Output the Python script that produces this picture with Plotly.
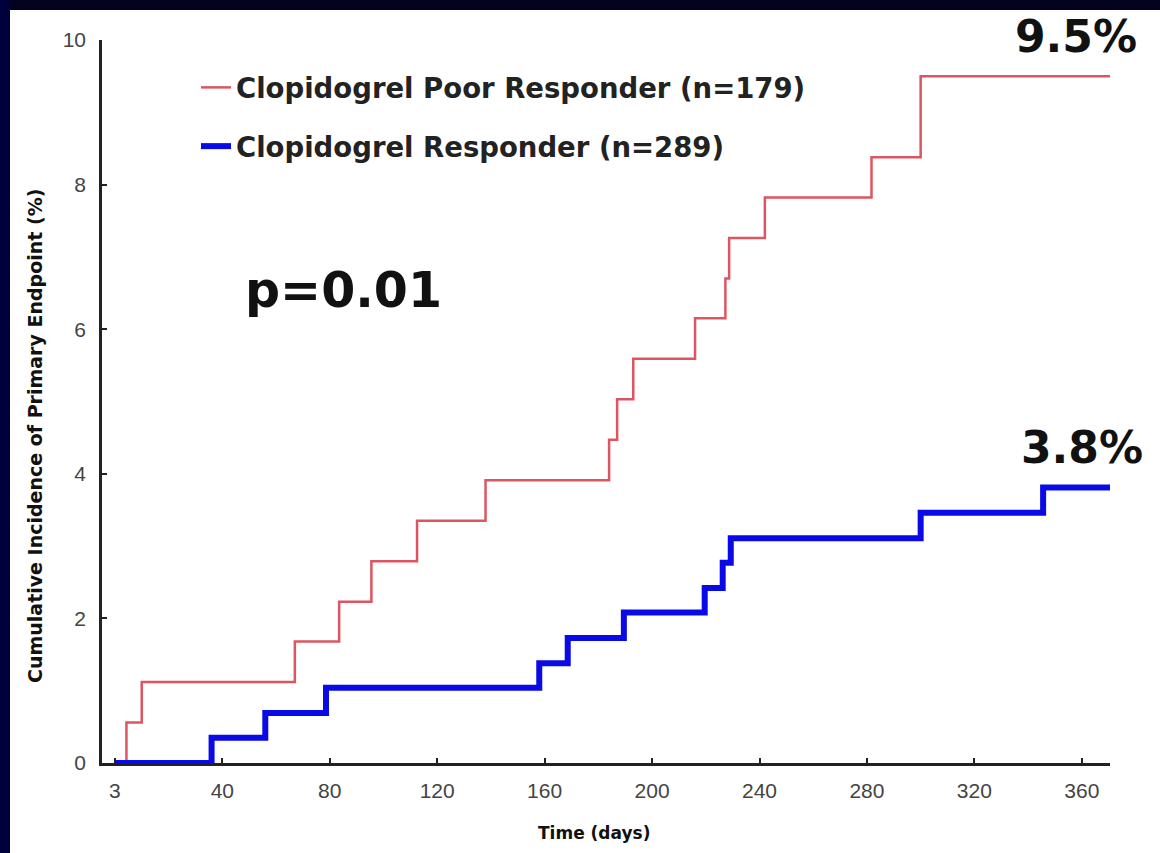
import plotly.graph_objects as go

# ---- data ----
poor_days = [4.3, 4.3, 10, 67, 83.5, 95.5, 112.5, 138, 184, 187, 193, 216, 227.3, 228.7, 242, 281.7, 300, 371]
poor_vals = [0, 0.56, 1.12, 1.68, 2.23, 2.79, 3.35, 3.91, 4.47, 5.03, 5.59, 6.15, 6.70, 7.26, 7.82, 8.38, 9.50, 9.50]

resp_days = [0, 36, 56, 78.6, 158, 168.6, 189.5, 219.6, 226.3, 229.3, 300, 345.6, 371]
resp_vals = [0, 0.35, 0.69, 1.04, 1.38, 1.73, 2.08, 2.42, 2.77, 3.11, 3.46, 3.81, 3.81]

x_tick_vals = [0, 40, 80, 120, 160, 200, 240, 280, 320, 360]
x_tick_text = ["3", "40", "80", "120", "160", "200", "240", "280", "320", "360"]
y_tick_vals = [0, 2, 4, 6, 8, 10]

poor_name = "Clopidogrel Poor Responder (n=179)"
resp_name = "Clopidogrel Responder (n=289)"

# ---- layout geometry (pixels) ----
WIDTH, HEIGHT = 1160, 853
L, R, T, B = 102, 1110, 40, 763
PW, PH = R - L, B - T


def px(x):
    return (x - L) / PW


def py(y):
    return (B - y) / PH


fig = go.Figure()
fig.add_trace(go.Scatter(
    x=poor_days, y=poor_vals, mode="lines", line_shape="hv",
    line=dict(color="#dc5560", width=2.5), name=poor_name, legendgroup="a",
    cliponaxis=False))
fig.add_trace(go.Scatter(
    x=resp_days, y=resp_vals, mode="lines", line_shape="hv",
    line=dict(color="#0a0ae6", width=6), name=resp_name, legendgroup="b",
    cliponaxis=False))

axis_common = dict(
    showgrid=False, zeroline=False, showline=True, linecolor="#222222",
    linewidth=2.5, ticks="inside", ticklen=5, tickwidth=1.5, tickcolor="#222222",
    tickfont=dict(family="Liberation Sans, Arial, sans-serif", size=21, color="#444444"),
)

fig.update_xaxes(range=[-4.8, 370.5], tickvals=x_tick_vals, ticktext=x_tick_text,
                 ticklabelstandoff=7, **axis_common)
fig.update_yaxes(range=[0, 10], tickvals=y_tick_vals, ticklabelstandoff=9, **axis_common)

shapes = [
    dict(type="rect", xref="paper", yref="paper", x0=px(0), x1=px(WIDTH), y0=py(10), y1=py(0),
         fillcolor="#03031f", line=dict(width=0), layer="below"),
    dict(type="rect", xref="paper", yref="paper", x0=px(0), x1=px(10), y0=py(HEIGHT), y1=py(0),
         fillcolor="#00003c", line=dict(width=0), layer="below"),
]

bold = "DejaVu Sans, Verdana, sans-serif"


def label(text, x, y, size, xanchor="center", angle=0):
    return dict(text=text, x=px(x), y=py(y), xref="paper", yref="paper", showarrow=False,
                xanchor=xanchor, yanchor="middle", textangle=angle,
                font=dict(family=bold, size=size, color="#111111", weight="bold"))


annotations = [
    label("Cumulative Incidence of Primary Endpoint (%)", 35, 436, 19, angle=-90),
    label("Time (days)", 594, 833, 17),
    label("p=0.01", 343, 290, 49),
    label("9.5%", 1139, 36, 44, xanchor="right"),
    label("3.8%", 1145, 447, 44, xanchor="right"),
]

fig.update_layout(
    width=WIDTH, height=HEIGHT,
    margin=dict(l=L, r=WIDTH - R, t=T, b=HEIGHT - B, autoexpand=False),
    paper_bgcolor="white", plot_bgcolor="white",
    shapes=shapes, annotations=annotations,
    showlegend=True,
    legend=dict(x=px(196), y=py(63), xanchor="left", yanchor="top",
                bgcolor="rgba(0,0,0,0)", tracegroupgap=20,
                font=dict(family=bold, size=27.5, color="#222222", weight="bold")),
)

fig.write_html(
    "out.html",
    config={"displayModeBar": False},
    post_script="document.body.style.margin='0';document.body.style.overflow='hidden';",
)
